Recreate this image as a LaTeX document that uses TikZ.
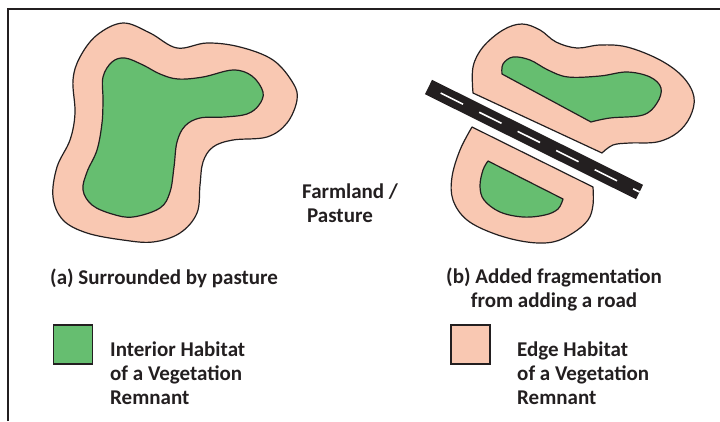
\documentclass[tikz,border=0pt]{standalone}
\usepackage{fontspec}
\setmainfont{Carlito}
\usetikzlibrary{positioning}
\definecolor{edgepink}{RGB}{249,200,178}
\definecolor{interiorgreen}{RGB}{102,190,112}
\definecolor{inkgrey}{RGB}{35,31,32}
\tikzset{
  edgearea/.style={fill=edgepink, draw=inkgrey, line width=1.2pt, line join=round},
  interiorarea/.style={fill=interiorgreen, draw=inkgrey, line width=1.2pt, line join=round},
  caption/.style={font=\bfseries\fontsize{21}{24}\selectfont, text=inkgrey, inner sep=0pt, align=left},
  legendbox/.style={draw=inkgrey, line width=1.4pt, minimum width=39pt, minimum height=39pt, inner sep=0pt}
}
\begin{document}
\begin{tikzpicture}[x=1pt,y=-1pt]
\useasboundingbox (0,0) rectangle (720,421);
\draw[inkgrey, line width=1.6pt] (8,421) -- (8,9) -- (720,9);

\draw[edgearea] plot[smooth cycle, tension=0.6] coordinates {(80,57) (97,35) (123,23) (150,33) (177,48) (207,43) (240,47) (273,60) (293,83) (297,100) (287,123) (267,137) (233,140) (213,147) (203,162) (200,185) (197,213) (180,233) (153,242) (123,240) (87,233) (63,220) (53,197) (57,167) (70,140) (75,113) (73,80)};
\draw[interiorarea] plot[smooth cycle, tension=0.6] coordinates {(103,77) (112,62) (125,58) (143,65) (160,74) (178,79) (203,77) (233,70) (252,76) (263,92) (259,105) (247,114) (225,117) (200,118) (185,126) (177,142) (174,167) (170,192) (160,208) (133,217) (112,214) (92,205) (83,190) (87,172) (97,150) (102,123) (103,100)};

\draw[edgearea] plot[smooth, tension=0.6] coordinates {(473,93) (473,67) (483,47) (503,30) (522,24) (540,30) (556,42) (577,48) (600,45) (627,47) (660,60) (683,77) (694,97) (690,117) (677,133) (657,142) (630,143) (613,145) (602,153)} -- cycle;
\draw[interiorarea] plot[smooth, tension=0.6] coordinates {(591,122) (610,118) (643,115) (657,103) (661,88) (650,77) (627,72) (600,76) (568,77) (548,70) (530,60) (513,57) (503,64) (502,74)} -- cycle;
\draw[edgearea] plot[smooth, tension=0.6] coordinates {(593,187) (593,205) (588,220) (573,233) (553,242) (527,242) (495,234) (467,220) (453,200) (452,177) (460,150) (472,127)} -- cycle;
\draw[interiorarea] plot[smooth, tension=0.6] coordinates {(563,199) (558,209) (545,215) (523,217) (500,212) (484,200) (480,186) (483,170) (488,161)} -- cycle;

\coordinate (roadstart) at (428.5,87);
\coordinate (roadend) at (639.5,192);
\draw[inkgrey, line width=16pt] (roadstart) -- (roadend);
\draw[white, line width=1.6pt, dash pattern=on 25pt off 18pt, dash phase=29.4pt] (roadstart) -- (roadend);

\node[caption, anchor=base west] (farmland) at (302,222) {Farmland /\\\hspace{5pt}Pasture};
\node[caption, anchor=base west] (capa) at (50,284) {(a) Surrounded by pasture};
\node[caption, anchor=base west, align=center] (capb) at (446,307) {(b) Added fragmentation\\from adding a road};

\node[legendbox, fill=interiorgreen] (intbox) at (73,344.5) {};
\node[caption, anchor=base west] (inttext) at (110,404) {Interior Habitat\\of a Vegetation\\Remnant};
\node[legendbox, fill=edgepink] (edgebox) at (470.5,344.5) {};
\node[caption, anchor=base west] (edgetext) at (517,404) {Edge Habitat\\of a Vegetation\\Remnant};
\end{tikzpicture}
\end{document}
